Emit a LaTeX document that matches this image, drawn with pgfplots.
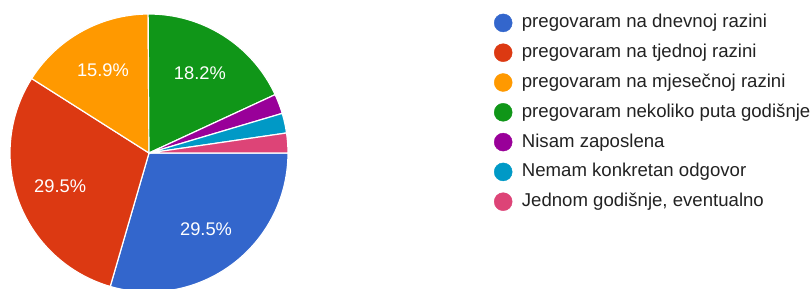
\documentclass[border=0pt]{standalone}
\usepackage{pgfplots}
\pgfplotsset{compat=1.18}
\usepackage{pgfplotstable}
\usepackage{fontspec}
\setmainfont{Liberation Sans}
\definecolor{c1}{HTML}{3366CC}
\definecolor{c2}{HTML}{DC3912}
\definecolor{c3}{HTML}{FF9900}
\definecolor{c4}{HTML}{109618}
\definecolor{c5}{HTML}{990099}
\definecolor{c6}{HTML}{0099C6}
\definecolor{c7}{HTML}{DD4477}
\definecolor{legtext}{HTML}{222222}
\pgfplotstableread{
pct col
29.5 c1
29.5 c2
15.9 c3
18.2 c4
2.3 c5
2.3 c6
2.3 c7
}\piedata
\begin{document}
\begin{tikzpicture}
\clip (0,0) rectangle (812pt,289pt);
\begin{axis}[
  hide axis, scale only axis,
  x=1pt, y=1pt, xmin=0, xmax=812, ymin=0, ymax=289,
  at={(0,0)}, anchor=south west,
  legend cell align=left,
  legend style={at={(axis cs:494,275.3)}, anchor=north west, draw=none, fill=none,
    inner sep=0pt, outer sep=0pt, row sep=11.4pt,
    nodes={inner sep=0pt, anchor=base west, text height=14pt, text depth=4pt,
      font=\fontsize{18.6}{19}\selectfont, text=legtext},
    /tikz/every odd column/.append style={column sep=9.5pt}},
]
\pgfplotsextra{%
  \gdef\cumang{0}%
  \pgfplotstableforeachcolumnelement{pct}\of\piedata\as\v{%
    \pgfmathsetmacro\aS{\cumang}%
    \pgfmathsetmacro\aE{\cumang-3.6*\v}%
    \pgfmathsetmacro\aM{(\aS+\aE)/2}%
    \pgfplotstablegetelem{\pgfplotstablerow}{col}\of\piedata
    \edef\col{\pgfplotsretval}%
    \fill[fill=\col, draw=white, line width=1.2pt, line join=round]
      (axis cs:149,136) -- ++(\aS:139pt) arc[start angle=\aS, end angle=\aE, radius=139pt] -- cycle;
    \pgfmathparse{\v>10 ? 1 : 0}%
    \ifnum\pgfmathresult=1
      \node[text=white, font=\fontsize{18.3}{18}\selectfont, inner sep=0pt]
        at (axis cs:149,136) [shift={(\aM:95pt)}] {\pgfmathprintnumber[fixed,precision=1,fixed zerofill,assume math mode=true]{\v}\%};
    \fi
    \xdef\cumang{\aE}%
  }%
}
\addlegendimage{legend image code/.code={\fill[c1] (9pt,5pt) circle (9pt);}}
\addlegendentry{pregovaram na dnevnoj razini}
\addlegendimage{legend image code/.code={\fill[c2] (9pt,5pt) circle (9pt);}}
\addlegendentry{pregovaram na tjednoj razini}
\addlegendimage{legend image code/.code={\fill[c3] (9pt,5pt) circle (9pt);}}
\addlegendentry{pregovaram na mjesečnoj razini}
\addlegendimage{legend image code/.code={\fill[c4] (9pt,5pt) circle (9pt);}}
\addlegendentry{pregovaram nekoliko puta godišnje}
\addlegendimage{legend image code/.code={\fill[c5] (9pt,5pt) circle (9pt);}}
\addlegendentry{Nisam zaposlena}
\addlegendimage{legend image code/.code={\fill[c6] (9pt,5pt) circle (9pt);}}
\addlegendentry{Nemam konkretan odgovor}
\addlegendimage{legend image code/.code={\fill[c7] (9pt,5pt) circle (9pt);}}
\addlegendentry{Jednom godišnje, eventualno}
\end{axis}
\end{tikzpicture}
\end{document}
